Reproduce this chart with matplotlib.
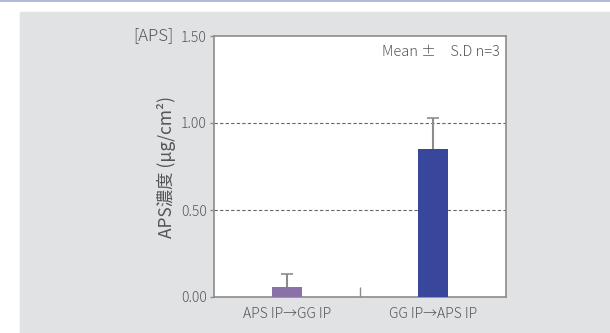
import matplotlib.pyplot as plt
from matplotlib.patches import Rectangle

plt.rcParams['font.family'] = ['Noto Sans CJK JP', 'DejaVu Sans']
plt.rcParams['font.weight'] = 'light'

categories = ["APS IP→GG IP", "GG IP→APS IP"]
means = [0.055, 0.85]
sds = [0.075, 0.18]
bar_colors = ["#8a72a8", "#38469c"]
yticks = [0.0, 0.5, 1.0, 1.5]

txt = "#555555"
edge = "#8c8c8c"

fig = plt.figure(figsize=(6.10, 3.33), dpi=100)
fig.patch.set_facecolor("white")

# gray panel + lavender top rule
fig.add_artist(Rectangle((20 / 610, 0), 590 / 610, 321 / 333,
                         transform=fig.transFigure, color="#e1e2e4", zorder=-10))
fig.add_artist(plt.Line2D([0, 1], [332.5 / 333, 332.5 / 333], transform=fig.transFigure,
                          color="#a3abd8", lw=1.2, zorder=-10))

ax = fig.add_axes([214 / 610, 36 / 333, 292 / 610, 261 / 333])
ax.set_zorder(5)
ax.set_facecolor("white")

x = list(range(len(categories)))
ax.bar(x, means, width=0.2, color=bar_colors, zorder=3)
# upper-only error bars
tops = [m + s for m, s in zip(means, sds)]
ax.vlines(x, means, tops, color=edge, lw=1.5, zorder=2)
ax.hlines(tops, [i - 0.04 for i in x], [i + 0.04 for i in x], color=edge, lw=1.2, zorder=2)

ax.set_xlim(-0.5, 1.5)
ax.set_ylim(0, 1.5)
ax.set_yticks(yticks)
ax.set_yticklabels([f"{v:.2f}" for v in yticks])
ax.set_xticks([0.5])
ax.set_xticklabels([""])
ax.tick_params(axis="x", direction="in", length=7, color=edge, width=1)
ax.tick_params(axis="y", direction="out", length=3, color=edge, width=1,
               labelsize=10, labelcolor=txt, pad=2)
for i, c in enumerate(categories):
    ax.text(i, -0.1, c, ha="center", va="center", fontsize=10, color=txt,
            transform=ax.transData, clip_on=False)

for v in yticks[1:3]:
    ax.axhline(v, color="#666666", lw=0.8, ls=(0, (3, 2)), zorder=1)

for s in ax.spines.values():
    s.set_color(edge)
    s.set_linewidth(1.2)

ax.set_ylabel("APS濃度 (μg/cm²)", fontsize=12.5, color=txt, labelpad=4)
ax.text(-0.14, 1.5, "[APS]", transform=ax.get_yaxis_transform(), ha="right",
        va="center", fontsize=12, color=txt)
ax.text(0.98, 0.94, "Mean ±　S.D n=3", transform=ax.transAxes, ha="right",
        va="center", fontsize=10.5, color=txt)

fig.savefig("out.png", dpi=100)
